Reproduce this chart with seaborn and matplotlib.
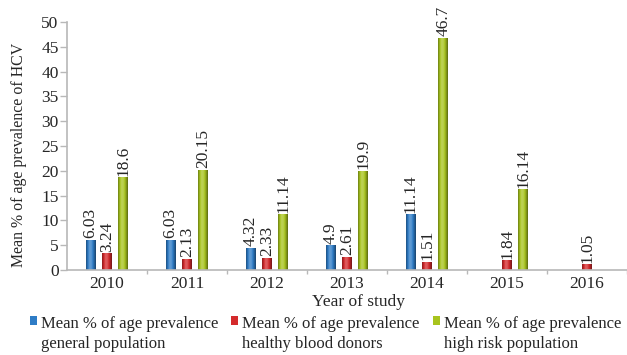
import numpy as np
import pandas as pd
import matplotlib
matplotlib.use("Agg")
import matplotlib.pyplot as plt
from matplotlib.patches import Rectangle, Patch
from matplotlib.legend_handler import HandlerPatch
from matplotlib.colors import to_rgb
import seaborn as sns

# Survey years and mean prevalence (%) per population group
years = ["2010", "2011", "2012", "2013", "2014", "2015", "2016"]
general_population = [6.03, 6.03, 4.32, 4.9, 11.14, np.nan, np.nan]
blood_donors = [3.24, 2.13, 2.33, 2.61, 1.51, 1.84, 1.05]
high_risk = [18.6, 20.15, 11.14, 19.9, 46.7, 16.14, np.nan]

series_names = [
    "Mean % of age prevalence\ngeneral population",
    "Mean % of age prevalence\nhealthy blood donors",
    "Mean % of age prevalence\nhigh risk population",
]
colors = ["#2e7cc6", "#d42a2c", "#a8c41e"]

df = pd.DataFrame({
    "year": years * 3,
    "series": np.repeat(series_names, len(years)),
    "value": general_population + blood_donors + high_risk,
})

sns.set_theme(style="white")
plt.rcParams["font.family"] = ["Liberation Serif", "DejaVu Serif"]
plt.rcParams["font.size"] = 12.5

fig = plt.figure(figsize=(6.27, 3.55), dpi=100)
ax = fig.add_axes([67 / 627, 1 - 270 / 355, (627 - 67) / 627, 248 / 355])

sns.barplot(
    data=df, x="year", y="value", hue="series",
    hue_order=series_names, order=years, palette=colors,
    width=0.61, gap=0.4, errorbar=None, legend=False, ax=ax,
    saturation=1, linewidth=0,
)

# Cylinder-style horizontal shading on each bar
for bar in list(ax.patches):
    h = bar.get_height()
    if not np.isfinite(h) or h == 0:
        continue
    x0, w = bar.get_x(), bar.get_width()
    base = np.array(to_rgb(bar.get_facecolor()))
    t = np.linspace(0, 1, 40)
    prof = np.interp(t, [0, 0.35, 0.55, 1], [-0.35, 0.25, 0.2, -0.45])
    rows = []
    for p in prof:
        if p >= 0:
            rows.append(base + (1 - base) * p)
        else:
            rows.append(base * (1 + p))
    img = np.clip(np.array(rows)[None, :, :], 0, 1)
    ax.imshow(img, extent=[x0, x0 + w, 0, h], aspect="auto",
              interpolation="bilinear", zorder=bar.get_zorder() + 0.1)
    bar.set_visible(False)

for cont in ax.containers:
    ax.bar_label(cont, fmt="%g", rotation=90, padding=1.5, fontsize=12.5)

ax.set_xlim(-0.5, -0.5 + 560 / 81)
ax.set_ylim(0, 50)
ax.set_yticks(range(0, 51, 5))
ax.set_xticks(np.arange(len(years)) + 0.5, minor=True)

spine_color = "#b8b8b8"
for side in ["top", "right"]:
    ax.spines[side].set_visible(False)
for side in ["left", "bottom"]:
    ax.spines[side].set_color(spine_color)
    ax.spines[side].set_linewidth(1.2)

ax.tick_params(axis="y", which="major", length=5, width=1, color=spine_color,
               pad=1, labelsize=12.5, left=True)
ax.tick_params(axis="x", which="major", length=0, pad=4, labelsize=12.5)
ax.tick_params(axis="x", which="minor", length=3, width=1, color=spine_color,
               bottom=True)

ax.set_xlabel("Year of study", fontsize=12.5)
ax.set_ylabel("Mean % of age prevalence of HCV", fontsize=11.4)
ax.yaxis.set_label_coords(-0.071, 0.465)
ax.xaxis.set_label_coords((358 - 67) / 560, -0.097)


def first_line_square(legend, orig_handle, xdescent, ydescent, width, height, fontsize):
    return Rectangle((-xdescent, -ydescent + fontsize * 0.8), width, height)


handles = [Patch(facecolor=c, edgecolor="none") for c in colors]
leg = fig.legend(
    handles, series_names, loc="upper left",
    bbox_to_anchor=(30 / 627, 1 - 316 / 355), ncol=3, frameon=False,
    fontsize=12, handlelength=0.42, handleheight=0.48, handletextpad=0.24,
    columnspacing=0.78, borderaxespad=0, borderpad=0,
    handler_map={Patch: HandlerPatch(patch_func=first_line_square)},
)
for txt in leg.get_texts():
    txt.set_linespacing(1.35)

fig.savefig("out.png", dpi=100)
